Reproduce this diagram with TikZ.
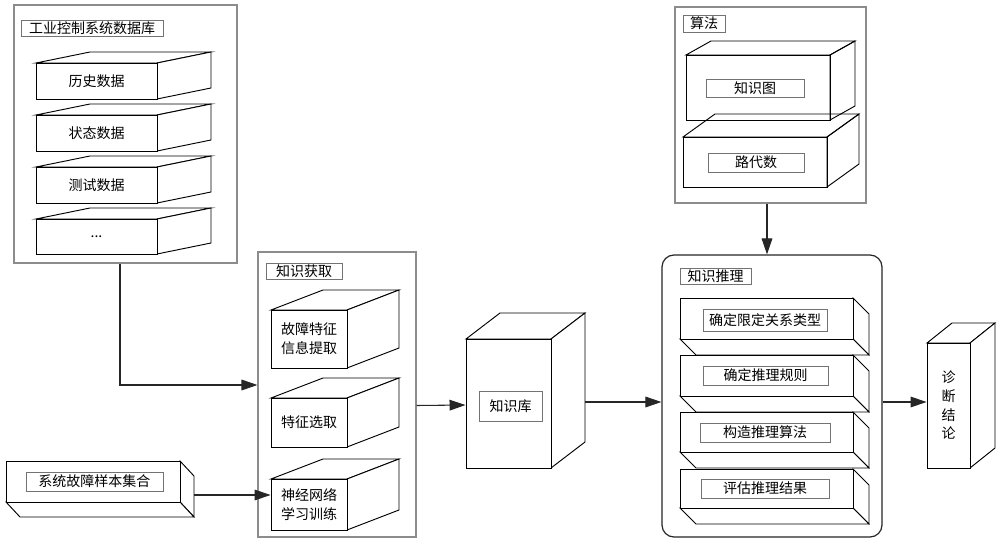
\documentclass[tikz,border=0pt]{standalone}
\usepackage{fontspec}
\setmainfont{Noto Sans CJK SC}
\usetikzlibrary{arrows.meta}
\tikzset{
  every node/.style={font=\fontsize{10.5}{14}\selectfont},
  face/.style={draw=black, line width=0.7pt, fill=white},
  hollow/.style={draw=black, line width=0.7pt},
  frame/.style={draw=black!45, line width=0.8pt},
  lab/.style={draw=black!55, line width=0.6pt, fill=white},
  arr/.style={draw=black!85, line width=0.8pt, -{Triangle[length=12pt,width=8pt]}},
}
% generic rectangle node: [style]{name}{x1}{y1}{x2}{y2}{text}
\newcommand\bx[7][]{\node[inner sep=0pt, align=center, minimum width={((#5)-(#3))*0.75pt}, minimum height={((#6)-(#4))*0.75pt}, #1] (#2) at ({((#3)+(#5))/2},{((#4)+(#6))/2}) {#7};}
% cube with depth going up-right: [style]{name}{x1}{y1}{x2}{y2}{dx}{dy}{text}
\newcommand\ucube[9][face]{%
  \draw[#1] (#3,#4) -- ({#3+(#7)},{#4+(#8)}) -- ({#5+(#7)},{#4+(#8)}) -- (#5,#4) -- cycle;
  \draw[#1] (#5,#4) -- ({#5+(#7)},{#4+(#8)}) -- ({#5+(#7)},{#6+(#8)}) -- (#5,#6) -- cycle;
  \bx[#1]{#2}{#3}{#4}{#5}{#6}{#9}}
% cube with depth going down-right
\newcommand\dcube[9][face]{%
  \draw[#1] (#5,#4) -- ({#5+(#7)},{#4+(#8)}) -- ({#5+(#7)},{#6+(#8)}) -- (#5,#6) -- cycle;
  \draw[#1] (#3,#6) -- ({#3+(#7)},{#6+(#8)}) -- ({#5+(#7)},{#6+(#8)}) -- (#5,#6) -- cycle;
  \bx[#1]{#2}{#3}{#4}{#5}{#6}{#9}}
\begin{document}
\begin{tikzpicture}[x=0.75pt, y=-0.75pt]
\fill[white] (0,0) rectangle (1000,542);
\useasboundingbox (0,0) rectangle (1000,542);

% ---------- industrial control system database ----------
\bx[frame]{db}{14}{5}{237}{263}{}
\bx[lab]{dbt}{21}{20}{163}{36}{工业控制系统数据库}
\ucube{h1}{36}{63}{157}{99}{54}{-11}{历史数据}
\ucube{h2}{36}{115}{157}{151}{54}{-11}{状态数据}
\ucube{h3}{36}{167}{157}{203}{54}{-11}{测试数据}
\ucube{h4}{36}{219}{157}{254}{54}{-11}{...}

% ---------- fault sample set ----------
\dcube{sample}{6}{461}{180}{502}{14}{15}{}
\bx[lab]{samplet}{26}{472}{163}{491}{系统故障样本集合}

% ---------- knowledge acquisition ----------
\bx[frame]{acq}{258}{252}{416}{537}{}
\bx[lab]{acqt}{266}{263}{342}{279}{知识获取}
\ucube{k1}{271}{310}{347}{368}{52}{-20}{故障特征\\信息提取}
\ucube{k2}{271}{398}{347}{447}{52}{-20}{特征选取}
\ucube{k3}{271}{479}{347}{530}{52}{-20}{神经网络\\学习训练}

% ---------- knowledge base ----------
\ucube{kb}{466}{339}{551}{468}{34}{-26}{}
\bx[lab]{kbt}{479}{391}{542}{421}{知识库}

% ---------- algorithms ----------
\bx[frame]{alg}{675}{7}{866}{203}{}
\bx[lab]{algt}{683}{15}{725}{32}{算法}
\ucube[hollow]{g1}{686}{55}{830}{120}{25}{-14}{}
\ucube[hollow]{g2}{683}{137}{827}{187}{32}{-23}{}
\bx[lab]{g1t}{706}{79}{804}{97}{知识图}
\bx[lab]{g2t}{708}{153}{804}{172}{路代数}

% ---------- knowledge inference ----------
\bx[draw=black!85, line width=0.9pt, rounded corners=9pt]{inf}{662}{255}{882}{537}{}
\bx[lab]{inft}{680}{268}{751}{284}{知识推理}
\dcube{r1}{680}{298}{853}{339}{16}{16}{}
\dcube{r2}{680}{355}{853}{396}{16}{16}{}
\dcube{r3}{680}{412}{853}{452}{16}{16}{}
\dcube{r4}{680}{469}{853}{508}{16}{16}{}
\bx[lab]{r1t}{703}{309}{827}{331}{确定限定关系类型}
\bx[lab]{r2t}{703}{366}{828}{385}{确定推理规则}
\bx[lab]{r3t}{700}{423}{830}{442}{构造推理算法}
\bx[lab]{r4t}{701}{479}{829}{498}{评估推理结果}

% ---------- diagnosis conclusion ----------
\ucube{dx}{927}{343}{970}{468}{25}{-20}{\fontsize{10.5}{12}\selectfont 诊\\断\\结\\论}

% ---------- connectors ----------
\draw[arr] ([shift={(-5.5,0)}]db.south) |- ([shift={(0,-9.5)}]acq.west);
\draw[arr] ([shift={(14,13.5)}]sample.east) -- ([shift={(0,-9.5)}]k3.west);
\draw[arr] ([shift={(0,11)}]acq.east) -- ([shift={(0,1.5)}]kb.west);
\draw[arr] ([shift={(34,-1.5)}]kb.east) -- ([shift={(0,6)}]inf.west);
\draw[arr] ([shift={(0,6)}]inf.east) -- ([shift={(0,-3.5)}]dx.west);
\draw[arr] ([shift={(-3.5,0)}]alg.south) -- ([shift={(-5,0)}]inf.north);
\end{tikzpicture}
\end{document}
